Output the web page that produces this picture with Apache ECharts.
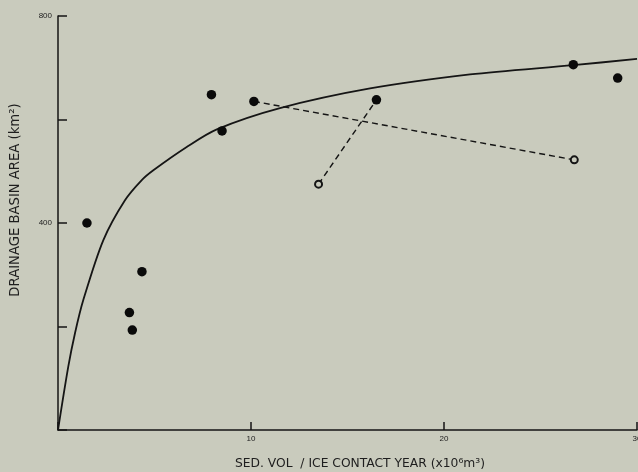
<!DOCTYPE html>
<html>
<head>
<meta charset="utf-8">
<script src="https://cdn.jsdelivr.net/npm/echarts@6/dist/echarts.min.js"></script>
<style>
html,body{margin:0;padding:0;background:#c9cbbd;}
#c{width:638px;height:472px;}
</style>
</head>
<body>
<div id="c"></div>
<script>
// Filled observations
var filledX = [1.5, 4.35, 3.7, 3.85, 7.95, 8.5, 10.15, 16.5, 26.7, 29.0];
var filledY = [400, 306, 227, 193, 648, 578, 635, 638, 706, 680];
// Open observations
var openX = [13.5, 26.75];
var openY = [475, 522];
// Dashed links
var link1X = [10.15, 26.75];
var link1Y = [635, 522];
var link2X = [13.5, 16.5];
var link2Y = [475, 638];
// Fitted curve
var curveX = [0, 0.53, 0.88, 1.31, 2.35, 3.47, 4.34, 4.94, 6.67, 8.23, 11.5, 16.17, 21.35, 26.7, 30];
var curveY = [0, 122, 187, 251, 367, 444, 483, 502, 547, 581, 622, 660, 687, 705, 717];
// Tick labels
var xLabels = ['10', '20', '30'];
var yLabels = ['400', '800'];

function zip(a, b) { return a.map(function (v, i) { return [v, b[i]]; }); }

var chart = echarts.init(document.getElementById('c'));
var ink = '#151515';
var font = 'Liberation Sans, Arial, sans-serif';
var titleFont = 'DejaVu Sans, sans-serif';
chart.setOption({
  backgroundColor: '#c9cbbd',
  animation: false,
  grid: { left: 58, top: 16, right: 1, bottom: 42, containLabel: false, outerBoundsMode: 'none' },
  xAxis: {
    type: 'value', min: 0, max: 30, interval: 10,
    name: 'SED. VOL  / ICE CONTACT YEAR (x10\u2076m\u00b3)',
    nameLocation: 'middle', nameGap: 28,
    nameTextStyle: { color: '#1e1e1e', fontSize: 12.3, fontFamily: titleFont, padding: [0, 0, 0, 25] },
    axisLine: { lineStyle: { color: ink, width: 1.5 } },
    axisTick: { inside: true, length: 8, lineStyle: { color: ink, width: 1.5 } },
    axisLabel: {
      color: '#222', fontSize: 8, margin: 5, fontFamily: font, showMaxLabel: true,
      formatter: function (v) { return xLabels.indexOf(String(v)) >= 0 ? String(v) : ''; }
    },
    splitLine: { show: false }
  },
  yAxis: {
    type: 'value', min: 0, max: 800, interval: 200,
    name: 'DRAINAGE BASIN AREA (km\u00b2)',
    nameLocation: 'middle', nameGap: 36, nameRotate: 90,
    nameTextStyle: { color: '#1e1e1e', fontSize: 13.2, fontFamily: titleFont, padding: [0, 0, 0, 46] },
    axisLine: { lineStyle: { color: ink, width: 1.5 } },
    axisTick: { inside: true, length: 9, lineStyle: { color: ink, width: 1.5 } },
    axisLabel: {
      color: '#222', fontSize: 8, margin: 6, fontFamily: font,
      formatter: function (v) { return yLabels.indexOf(String(v)) >= 0 ? String(v) : ''; }
    },
    splitLine: { show: false }
  },
  series: [
    {
      type: 'line', data: zip(curveX, curveY), smooth: 0.3,
      symbol: 'none', lineStyle: { color: ink, width: 1.8 }, z: 2
    },
    {
      type: 'line', data: zip(link1X, link1Y), symbol: 'none',
      lineStyle: { color: ink, width: 1.4, type: [6, 4] }, z: 2
    },
    {
      type: 'line', data: zip(link2X, link2Y), symbol: 'none',
      lineStyle: { color: ink, width: 1.4, type: [6, 4] }, z: 2
    },
    {
      type: 'scatter', data: zip(filledX, filledY), symbol: 'circle', symbolSize: 9.5,
      itemStyle: { color: '#0a0a0a', opacity: 1 }, z: 4
    },
    {
      type: 'scatter', data: zip(openX, openY), symbol: 'circle', symbolSize: 7,
      itemStyle: { color: '#c9cbbd', borderColor: ink, borderWidth: 2, opacity: 1 }, z: 5
    }
  ]
});
</script>
</body>
</html>
